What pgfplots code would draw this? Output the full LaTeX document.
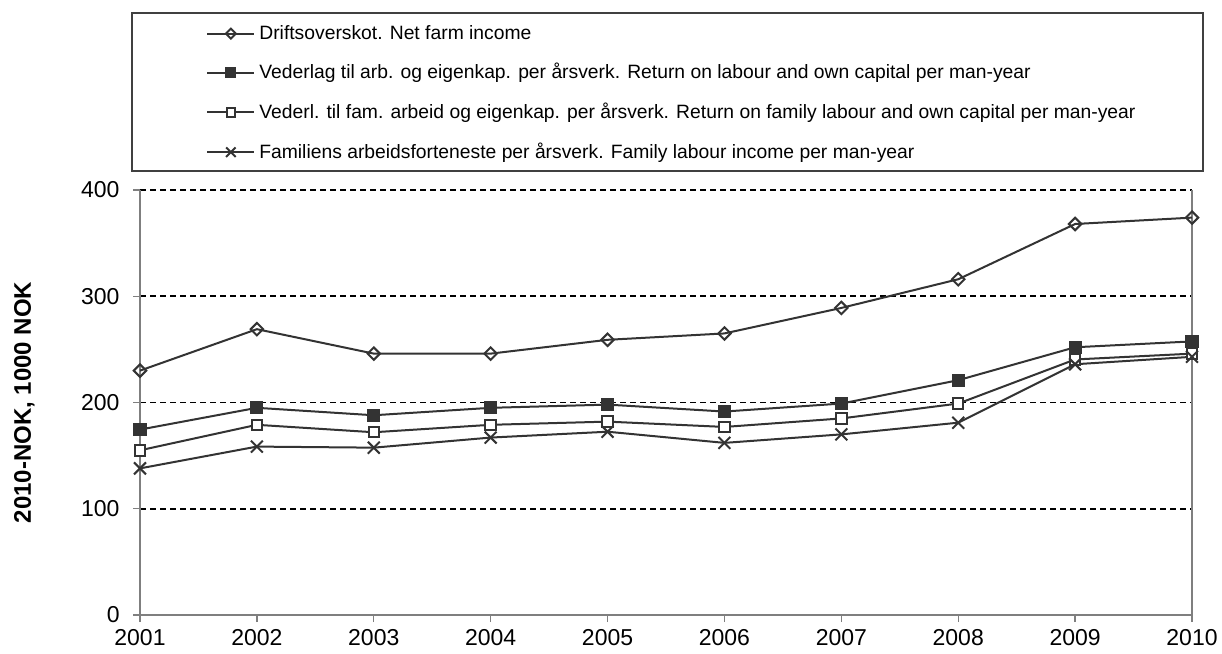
\documentclass[border=0pt]{standalone}
\usepackage{fontspec}
\setmainfont{Liberation Sans}
\usepackage{pgfplots}
\pgfplotsset{compat=1.18}
\usetikzlibrary{calc}
\definecolor{ser}{HTML}{333333}
\definecolor{axgray}{HTML}{7F7F7F}

\begin{document}
\begin{tikzpicture}
\begin{axis}[
    name=ax,
    scale only axis,
    width=526pt, height=212.5pt,
    xmin=2001, xmax=2010,
    ymin=0, ymax=400,
    xtick={2001,2002,2003,2004,2005,2006,2007,2008,2009,2010},
    ytick={0,100,200,300,400},
    axis x line=bottom,
    axis y line=box,
    ytick pos=left,
    axis line style={-, axgray, line width=0.7pt},
    tick style={axgray, line width=0.7pt},
    tick align=outside,
    major tick length=3.5pt,
    /pgf/number format/assume math mode=true,
    xticklabel style={/pgf/number format/1000 sep={}},
    yticklabel style={xshift=-3.2pt},
    tick label style={font=\fontsize{11.5}{13}\selectfont},
    ymajorgrids=true,
    grid style={black, line width=0.9pt, dash pattern=on 3pt off 2pt},
    ylabel={2010-NOK, 1000 NOK},
    ylabel style={at={(axis description cs:-0.110,0.5)}, anchor=center, font=\bfseries\fontsize{12}{14}\selectfont},
    clip=false,
    legend cell align=left,
    legend style={draw=none, fill=none, inner sep=0pt, row sep=6.6pt,
        at={(rel axis cs:0.0627,1.2275)}, anchor=west,
        font=\fontsize{9.65}{12}\selectfont},
    legend image code/.code={
        \draw[mark repeat=2, mark phase=2, every mark/.append style={scale=0.8}]
        plot coordinates {(0pt,0pt) (11.75pt,0pt) (23.5pt,0pt)};
    },
]

\draw[black!75, line width=0.6pt] (rel axis cs:-0.0076,1.0447) rectangle (rel axis cs:1.0105,1.4165);

\addplot[color=ser, line width=1pt, mark=square, mark size=2.2pt, mark options={fill=white, solid, rotate=45}]
coordinates {
    (2001,230)(2002,269)(2003,246)(2004,246)(2005,259)(2006,265)(2007,289)(2008,316)(2009,368)(2010,374)
};
\addlegendentry{Driftsoverskot. Net farm income}

\addplot[color=ser, line width=1pt, mark=square*, mark size=2.8pt, mark options={fill=ser, solid}]
coordinates {
    (2001,174.5)(2002,195)(2003,188)(2004,195)(2005,198)(2006,191.5)(2007,199)(2008,221)(2009,252)(2010,257.5)
};
\addlegendentry{Vederlag til arb. og eigenkap. per årsverk. Return on labour and own capital per man-year}

\addplot[color=ser, line width=1pt, mark=square*, mark size=2.6pt, mark options={fill=white, solid}]
coordinates {
    (2001,155)(2002,179)(2003,172)(2004,179)(2005,182)(2006,177)(2007,185)(2008,199)(2009,240.5)(2010,246)
};
\addlegendentry{Vederl. til fam. arbeid og eigenkap. per årsverk. Return on family labour and own capital per man-year}

\addplot[color=ser, line width=1pt, mark=x, mark size=4.2pt, mark options={solid}]
coordinates {
    (2001,138)(2002,158.5)(2003,157.5)(2004,167)(2005,172.5)(2006,162)(2007,170)(2008,181)(2009,236)(2010,243)
};
\addlegendentry{Familiens arbeidsforteneste per årsverk. Family labour income per man-year}

\end{axis}
\pgfresetboundingbox
\path[use as bounding box] ($(ax.south west)+(-70pt,-19pt)$) rectangle ($(ax.north east)+(15pt,95pt)$);
\end{tikzpicture}
\end{document}
